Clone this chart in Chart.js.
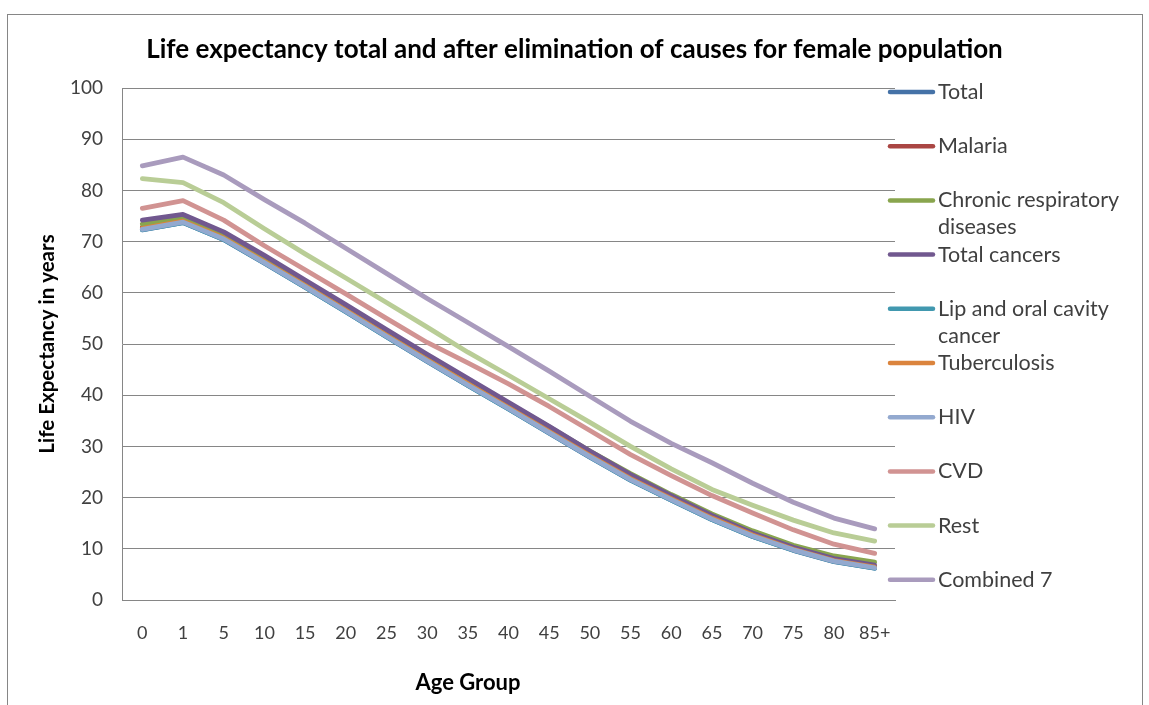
<!DOCTYPE html>
<html>
<head>
<meta charset="utf-8">
<script src="https://cdn.jsdelivr.net/npm/chart.js@4.4.0/dist/chart.umd.min.js"></script>
<style>
  html, body { margin: 0; padding: 0; background: #ffffff; }
  canvas { display: block; }
</style>
</head>
<body>
<canvas id="chart" width="1149" height="705"></canvas>
<script>
// Age groups (x axis)
const ageGroups = ['0', '1', '5', '10', '15', '20', '25', '30', '35', '40', '45', '50', '55', '60', '65', '70', '75', '80', '85+'];

// Y axis ticks
const yTicks = [0, 10, 20, 30, 40, 50, 60, 70, 80, 90, 100];

// Life expectancy (years) by age group, total and after eliminating each cause
const totalLE        = [72.3, 73.7, 70.4, 65.8, 61.1, 56.3, 51.4, 46.6, 41.9, 37.3, 32.6, 27.9, 23.4, 19.5, 15.7, 12.4, 9.7, 7.5, 6.2];
const malariaLE      = [72.8, 74.2, 70.9, 66.3, 61.6, 56.8, 51.9, 47.1, 42.4, 37.8, 33.1, 28.4, 23.9, 19.9, 16.1, 12.8, 10.0, 7.8, 6.5];
const chronicRespLE  = [73.4, 74.8, 71.5, 66.9, 62.2, 57.4, 52.5, 47.7, 43.0, 38.4, 33.8, 29.1, 24.7, 20.6, 16.8, 13.5, 10.7, 8.6, 7.4];
const cancersLE      = [74.2, 75.3, 71.9, 67.3, 62.5, 57.7, 52.8, 48.0, 43.3, 38.6, 33.9, 29.1, 24.5, 20.4, 16.5, 13.1, 10.3, 8.1, 6.8];
const lipOralLE      = [72.32, 73.72, 70.42, 65.82, 61.12, 56.32, 51.42, 46.62, 41.92, 37.32, 32.62, 27.92, 23.42, 19.52, 15.72, 12.42, 9.72, 7.52, 6.22];
const tuberculosisLE = [72.6, 74.0, 70.7, 66.1, 61.4, 56.6, 51.7, 46.9, 42.2, 37.6, 32.9, 28.2, 23.7, 19.8, 16.0, 12.7, 9.9, 7.7, 6.4];
const hivLE          = [72.4, 73.8, 70.5, 65.9, 61.2, 56.4, 51.5, 46.7, 42.0, 37.4, 32.7, 28.0, 23.5, 19.6, 15.8, 12.5, 9.8, 7.6, 6.3];
const cvdLE          = [76.5, 78.0, 74.2, 69.2, 64.5, 59.8, 55.0, 50.3, 46.3, 42.2, 37.8, 33.1, 28.4, 24.3, 20.4, 17.0, 13.7, 10.9, 9.1];
const restLE         = [82.3, 81.5, 77.6, 72.5, 67.6, 62.9, 58.1, 53.3, 48.4, 43.9, 39.3, 34.7, 30.0, 25.6, 21.6, 18.5, 15.6, 13.1, 11.5];
const combined7LE    = [84.8, 86.5, 83.0, 78.2, 73.6, 68.7, 63.8, 58.9, 54.2, 49.5, 44.7, 39.8, 34.9, 30.6, 26.8, 22.8, 19.1, 16.0, 13.9];

const seriesNames  = ['Total', 'Malaria', 'Chronic respiratory diseases', 'Total cancers', 'Lip and oral cavity cancer', 'Tuberculosis', 'HIV', 'CVD', 'Rest', 'Combined 7'];
const seriesValues = [totalLE, malariaLE, chronicRespLE, cancersLE, lipOralLE, tuberculosisLE, hivLE, cvdLE, restLE, combined7LE];
const seriesColors = ['#4572A7', '#AA4643', '#89A54E', '#71588F', '#4198AF', '#DB843D', '#93A9CF', '#D19392', '#B9CD96', '#A99BBD'];

const xAxisTitle = 'Age Group';

const FONT = "Lato, 'Liberation Sans', sans-serif";
const TEXT_GREY = '#404040';
const GRID_GREY = '#868686';

// Outer frame of the chart, plus the x axis title (sits left of the plot centre)
const framePlugin = {
  id: 'frame',
  beforeDraw(chart) {
    const ctx = chart.ctx;
    ctx.save();
    ctx.fillStyle = '#ffffff';
    ctx.fillRect(0, 0, chart.width, chart.height);
    ctx.strokeStyle = GRID_GREY;
    ctx.lineWidth = 1;
    ctx.strokeRect(7.5, 14.5, 1135, 720);
    ctx.restore();
  },
  afterDraw(chart) {
    const ctx = chart.ctx;
    ctx.save();
    ctx.font = 'bold 22px ' + FONT;
    ctx.fillStyle = '#000000';
    ctx.textAlign = 'center';
    ctx.textBaseline = 'middle';
    ctx.fillText(xAxisTitle, 468, 683);
    ctx.restore();
  }
};

// Legend column on the right, registered as a layout box so the title stays centred on the canvas
const LEGEND_WIDTH = 254;
const sideLegendPlugin = {
  id: 'sideLegend',
  start(chart) {
    const box = {
      position: 'right',
      weight: 1000,
      fullSize: false,
      options: { stackWeight: 1 },
      left: 0, top: 0, right: 0, bottom: 0, width: 0, height: 0,
      isHorizontal() { return false; },
      update(maxWidth, maxHeight) {
        this.width = LEGEND_WIDTH;
        this.height = maxHeight;
        return { width: this.width, height: this.height };
      },
      draw() {
        const ctx = chart.ctx;
        const x0 = this.left - 7;
        const lineLen = 47;
        const textX = x0 + lineLen + 3;
        const maxTextWidth = 195;
        const step = 54.2;
        const lineGap = 27;
        ctx.save();
        ctx.font = '21.5px ' + FONT;
        ctx.textBaseline = 'middle';
        ctx.textAlign = 'left';
        chart.data.datasets.forEach((ds, i) => {
          const y = 92 + i * step;
          ctx.strokeStyle = ds.borderColor;
          ctx.lineWidth = 4.5;
          ctx.lineCap = 'round';
          ctx.beginPath();
          ctx.moveTo(x0 + 2, y);
          ctx.lineTo(x0 + lineLen - 2, y);
          ctx.stroke();
          // simple word wrap
          const words = ds.label.split(' ');
          const lines = [];
          let cur = '';
          words.forEach(w => {
            const test = cur ? cur + ' ' + w : w;
            if (cur && ctx.measureText(test).width > maxTextWidth) {
              lines.push(cur);
              cur = w;
            } else {
              cur = test;
            }
          });
          lines.push(cur);
          ctx.fillStyle = TEXT_GREY;
          lines.forEach((ln, k) => ctx.fillText(ln, textX, y + k * lineGap));
        });
        ctx.restore();
      }
    };
    Chart.layouts.addBox(chart, box);
  }
};

const datasets = seriesNames.map((name, i) => ({
  label: name,
  data: seriesValues[i],
  borderColor: seriesColors[i],
  backgroundColor: seriesColors[i],
  borderWidth: 4.8,
  pointRadius: 0,
  pointHoverRadius: 0,
  tension: 0,
  fill: false,
  borderCapStyle: 'round',
  borderJoinStyle: 'round',
  order: seriesNames.length - i
}));

new Chart(document.getElementById('chart'), {
  type: 'line',
  data: { labels: ageGroups, datasets },
  plugins: [framePlugin, sideLegendPlugin],
  options: {
    responsive: false,
    animation: false,
    events: [],
    layout: { padding: 0 },
    plugins: {
      legend: { display: false },
      tooltip: { enabled: false },
      title: {
        display: true,
        text: 'Life expectancy total and after elimination of causes for female population',
        color: '#000000',
        font: { family: FONT, size: 26, weight: 'bold' },
        padding: { top: 34.4, bottom: 22.4 }
      }
    },
    scales: {
      x: {
        type: 'category',
        offset: true,
        grid: { display: false, drawTicks: false },
        border: { display: true, color: GRID_GREY, width: 1 },
        ticks: {
          color: TEXT_GREY,
          font: { family: FONT, size: 18 },
          padding: 22,
          maxRotation: 0,
          autoSkip: false
        },
        title: { display: false },
        afterFit(scale) { scale.height = 105; }
      },
      y: {
        min: 0,
        max: 100,
        afterBuildTicks(scale) { scale.ticks = yTicks.map(v => ({ value: v })); },
        grid: { color: GRID_GREY, lineWidth: 1, drawTicks: false },
        border: { display: true, color: GRID_GREY, width: 1 },
        ticks: {
          color: TEXT_GREY,
          font: { family: FONT, size: 19 },
          padding: 19
        },
        title: {
          display: true,
          text: 'Life Expectancy in years',
          color: '#000000',
          font: { family: FONT, size: 20.5, weight: 'bold' },
          padding: { top: 34.7, bottom: 0 }
        },
        afterFit(scale) { scale.width = 122; }
      }
    }
  }
});
</script>
</body>
</html>
